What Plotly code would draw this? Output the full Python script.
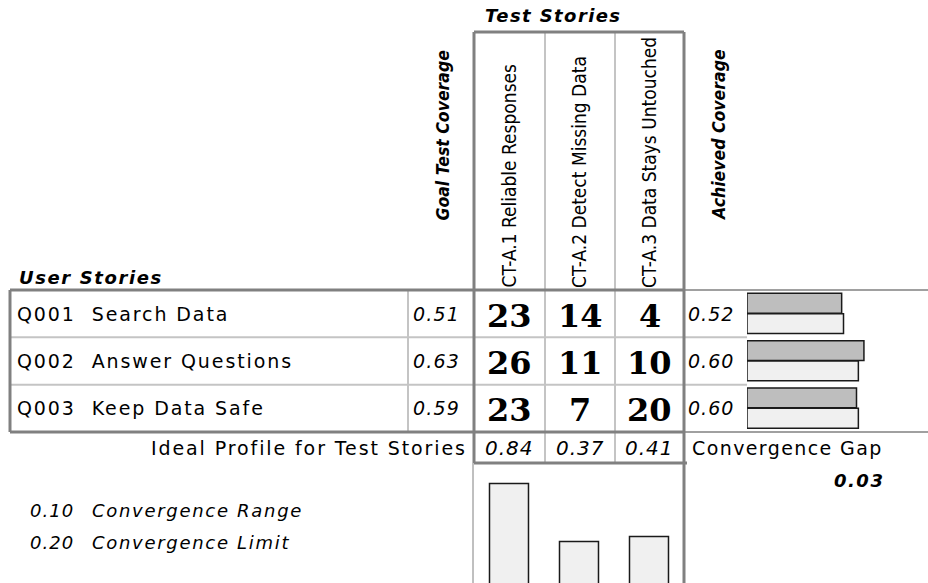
import plotly.graph_objects as go

# ---------------- data ----------------
user_stories = ["Q001\u00a0\u00a0Search Data", "Q002\u00a0\u00a0Answer Questions", "Q003\u00a0\u00a0Keep Data Safe"]
goal_coverage = [0.51, 0.63, 0.59]
test_stories = ["CT-A.1 Reliable Responses", "CT-A.2 Detect Missing Data", "CT-A.3 Data Stays Untouched"]
matrix = [[23, 14, 4],
          [26, 11, 10],
          [23, 7, 20]]
achieved_coverage = [0.52, 0.60, 0.60]
ideal_profile = [0.84, 0.37, 0.41]
convergence_gap = 0.03
convergence_range = 0.10
convergence_limit = 0.20

# ---------------- layout geometry (pixels) ----------------
W, H = 928, 583
TABLE_LEFT = 10
TABLE_TOP = 290
ROW_H = 47.33
N_ROWS = len(user_stories)
TABLE_BOTTOM = TABLE_TOP + ROW_H * N_ROWS
GOAL_SEP = 408
COL_EDGES = [474, 545, 615, 684]
BAR_LEFT = 747
HEADER_TOP = 32
IDEAL_BOTTOM = 463

SANS = "DejaVu Sans, Liberation Sans, Arial, sans-serif"
NARROW = "Liberation Sans Narrow, Arial Narrow, DejaVu Sans Condensed, Liberation Sans, sans-serif"
SERIF = "DejaVu Serif, serif"

DARK = "#808080"
LIGHT = "#c4c4c4"


def ls(text, px):
    return f'<span style="letter-spacing:{px}px">{text}</span>'


col_centers = [(COL_EDGES[i] + COL_EDGES[i + 1]) / 2 for i in range(len(test_stories))]
row_centers = [TABLE_TOP + ROW_H * (i + 0.5) for i in range(N_ROWS)]

fig = go.Figure()

# ---------- horizontal bars: goal (dark) vs achieved (light) ----------
fig.add_trace(go.Bar(
    x=goal_coverage, y=list(range(N_ROWS)), orientation="h",
    xaxis="x2", yaxis="y2", width=0.42, offset=-0.43,
    marker=dict(color="#bebebe", line=dict(color="#1a1a1a", width=1.5)),
    hoverinfo="skip", showlegend=False))
fig.add_trace(go.Bar(
    x=achieved_coverage, y=list(range(N_ROWS)), orientation="h",
    xaxis="x2", yaxis="y2", width=0.42, offset=0.0,
    marker=dict(color="#f0f0f0", line=dict(color="#1a1a1a", width=1.5)),
    hoverinfo="skip", showlegend=False))

# ---------- vertical bars: ideal profile ----------
fig.add_trace(go.Bar(
    x=list(range(len(ideal_profile))), y=ideal_profile,
    xaxis="x3", yaxis="y3", width=0.557,
    marker=dict(color="#f0f0f0", line=dict(color="#1a1a1a", width=1.5)),
    hoverinfo="skip", showlegend=False))

# ---------- grid lines ----------
shapes = []


def line(x0, y0, x1, y1, color, width):
    shapes.append(dict(type="line", xref="x", yref="y", x0=x0, y0=y0, x1=x1, y1=y1,
                       line=dict(color=color, width=width), layer="above"))


# light separators
for i in range(1, N_ROWS):
    y = TABLE_TOP + ROW_H * i
    line(TABLE_LEFT, y, BAR_LEFT, y, LIGHT, 2)
line(GOAL_SEP, TABLE_TOP, GOAL_SEP, TABLE_BOTTOM, LIGHT, 2)
for x in COL_EDGES[1:-1]:
    line(x, HEADER_TOP, x, IDEAL_BOTTOM, LIGHT, 2)
# thin right-side lines
line(COL_EDGES[-1], TABLE_TOP, W, TABLE_TOP, DARK, 1.5)
line(COL_EDGES[-1], TABLE_BOTTOM, W, TABLE_BOTTOM, DARK, 1.5)
line(COL_EDGES[0] - 1, IDEAL_BOTTOM, COL_EDGES[0] - 1, H, DARK, 1)
# thick frame lines
line(TABLE_LEFT, TABLE_TOP, COL_EDGES[-1], TABLE_TOP, DARK, 3)
line(TABLE_LEFT, TABLE_BOTTOM, COL_EDGES[-1], TABLE_BOTTOM, DARK, 3)
line(TABLE_LEFT, TABLE_TOP, TABLE_LEFT, TABLE_BOTTOM, DARK, 3)
line(COL_EDGES[0], HEADER_TOP, COL_EDGES[-1], HEADER_TOP, DARK, 3)
line(COL_EDGES[0], HEADER_TOP, COL_EDGES[0], IDEAL_BOTTOM, DARK, 3)
line(COL_EDGES[-1], HEADER_TOP, COL_EDGES[-1], H, DARK, 3)
line(COL_EDGES[0], IDEAL_BOTTOM, COL_EDGES[-1] + 3, IDEAL_BOTTOM, DARK, 3)

# ---------- texts ----------
ann = []


def text(x, y, t, size, family=SANS, color="#000", xanchor="center", yanchor="middle", angle=0):
    ann.append(dict(x=x, y=y, xref="x", yref="y", text=t, showarrow=False,
                    font=dict(size=size, family=family, color=color),
                    xanchor=xanchor, yanchor=yanchor, textangle=angle))


text(553, 15, ls("<b><i>Test Stories</i></b>", 1.4), 18)
text(17, 277, ls("<b><i>User Stories</i></b>", 1.6), 18, xanchor="left")

# rotated headers
text(442, 223, "<b><i>Goal Test Coverage</i></b>", 17.5, family=NARROW, yanchor="bottom", angle=-90)
text(719, 223, "<b><i>Achieved Coverage</i></b>", 17.5, family=NARROW, yanchor="bottom", angle=-90)
for i, name in enumerate(test_stories):
    text(col_centers[i] - 1, 290, name, 19, family=NARROW, yanchor="bottom", angle=-90)

# rows
for r in range(N_ROWS):
    yc = row_centers[r]
    text(15, yc, ls(user_stories[r], 1.9), 19, xanchor="left")
    text(GOAL_SEP + 54, yc, ls(f"<i>{goal_coverage[r]:.2f}</i>", 1.2), 19, xanchor="right")
    for c in range(len(test_stories)):
        text(col_centers[c], yc + 2, f"<b>{matrix[r][c]}</b>", 32, family=SERIF)
    text(COL_EDGES[-1] + 52, yc, ls(f"<i>{achieved_coverage[r]:.2f}</i>", 1.0), 19, xanchor="right")

# ideal row
ideal_y = (TABLE_BOTTOM + IDEAL_BOTTOM) / 2
text(COL_EDGES[0] - 5, ideal_y, ls("Ideal Profile for Test Stories", 1.9), 19, xanchor="right")
for c in range(len(ideal_profile)):
    text(col_centers[c], ideal_y, ls(f"<i>{ideal_profile[c]:.2f}</i>", 1.0), 20)
text(COL_EDGES[-1] + 6, ideal_y, ls("Convergence Gap", 1.4), 19, xanchor="left")
text(886, 480, ls(f"<b><i>{convergence_gap:.2f}</i></b>", 1.5), 18, xanchor="right")

text(28, 510, ls(f"<i>{convergence_range:.2f}</i>", 1.0), 18, xanchor="left")
text(90, 510, ls("<i>Convergence Range</i>", 1.7), 18, xanchor="left")
text(28, 542, ls(f"<i>{convergence_limit:.2f}</i>", 1.0), 18, xanchor="left")
text(90, 542, ls("<i>Convergence Limit</i>", 1.7), 18, xanchor="left")

# ---------- axes ----------
hidden = dict(visible=False, showgrid=False, zeroline=False, fixedrange=True)
bar_scale = 185.6  # px per unit coverage
ideal_scale = 123.3
ideal_base = 587

fig.update_layout(
    width=W, height=H, margin=dict(l=0, r=0, t=0, b=0),
    paper_bgcolor="white", plot_bgcolor="rgba(0,0,0,0)",
    barmode="overlay", showlegend=False,
    xaxis=dict(range=[0, W], domain=[0, 1], **hidden),
    yaxis=dict(range=[H, 0], domain=[0, 1], **hidden),
    xaxis2=dict(domain=[BAR_LEFT / W, 1], range=[0, (W - BAR_LEFT) / bar_scale], anchor="y2", **hidden),
    yaxis2=dict(domain=[1 - TABLE_BOTTOM / H, 1 - TABLE_TOP / H], range=[N_ROWS - 0.5, -0.5], anchor="x2", **hidden),
    xaxis3=dict(domain=[COL_EDGES[0] / W, COL_EDGES[-1] / W], range=[-0.5, len(ideal_profile) - 0.5], anchor="y3", **hidden),
    yaxis3=dict(domain=[0, 1 - IDEAL_BOTTOM / H],
                range=[(ideal_base - H) / ideal_scale, (ideal_base - IDEAL_BOTTOM) / ideal_scale],
                anchor="x3", **hidden),
    shapes=shapes, annotations=ann,
)

fig.write_html("out.html", config={"displayModeBar": False},
               post_script="document.body.style.margin='0';document.body.style.overflow='hidden';")
